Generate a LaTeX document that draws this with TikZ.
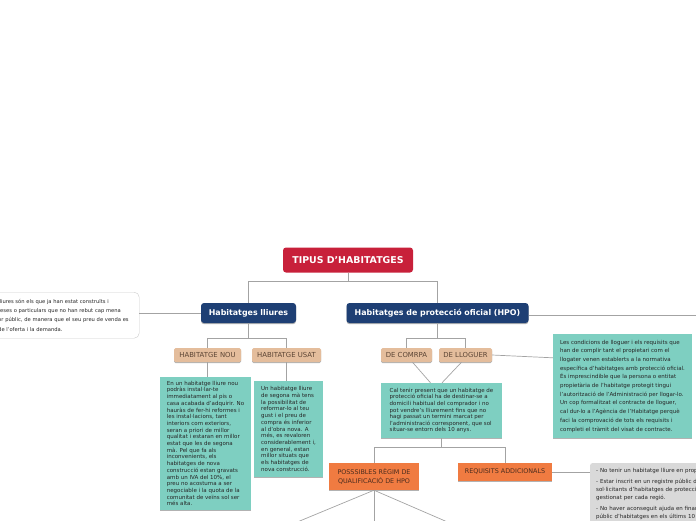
\documentclass[tikz,border=0pt]{standalone}
\usepackage{fontspec}
\setmainfont{DejaVu Sans}
\usepackage{tikz}
\usetikzlibrary{calc, positioning, shadows}

\definecolor{rootred}{HTML}{C8203A}
\definecolor{mainblue}{HTML}{1E3F74}
\definecolor{tanfill}{HTML}{E4BD9C}
\definecolor{tantext}{HTML}{5C4535}
\definecolor{tealfill}{HTML}{7ECFC1}
\definecolor{orangefill}{HTML}{F07B41}
\definecolor{orangetext}{HTML}{4A2C1E}
\definecolor{greyfill}{HTML}{D9D9D9}
\definecolor{linkgrey}{HTML}{A3A3A3}

\tikzset{
  link/.style={draw=linkgrey, line width=.7pt},
  boxshadow/.style={drop shadow={shadow xshift=0pt, shadow yshift=-1.2pt, fill=black, opacity=.3}},
  rootbox/.style={fill=rootred, rounded corners=3pt, text=white, font=\bfseries\fontsize{9.4}{11}\selectfont, minimum width=130pt, minimum height=25pt, inner sep=0pt},
  mainbox/.style={fill=mainblue, rounded corners=3pt, text=white, font=\bfseries\fontsize{7.9}{9}\selectfont, minimum height=20pt, inner sep=0pt, boxshadow},
  tanbox/.style={fill=tanfill, rounded corners=1.5pt, text=tantext, font=\fontsize{6.9}{8}\selectfont, minimum height=14pt, inner sep=0pt, boxshadow},
  orangebox/.style={fill=orangefill, text=orangetext, font=\fontsize{6.4}{9}\selectfont, align=center, inner sep=0pt, boxshadow},
  notebox/.style={fill=tealfill, text=black!85, align=left, inner sep=0pt, boxshadow},
  sidenote/.style={draw=black!20, fill=white, rounded corners=5pt, text=black!85, align=left, inner xsep=4pt, inner ysep=0pt},
  greynote/.style={fill=greyfill, rounded corners=2pt, text=black!85, align=left, inner xsep=6pt, inner ysep=5pt}
}

\begin{document}
\begin{tikzpicture}[x=1pt, y=-1pt]
  \clip (0,0) rectangle (696,520);
  \node[rootbox] (tipus) at (348,260) {TIPUS D'HABITATGES};
  \node[mainbox, minimum width=95pt] (lliures) at (248.5,313) {Habitatges lliures};
  \node[mainbox, minimum width=182pt] (hpo) at (437.5,313) {Habitatges de protecció oficial (HPO)};
  \node[sidenote, text width=137pt, minimum height=46pt, anchor=north west, font=\fontsize{5.2}{9.3}\selectfont] (lliurenote) at (-6,292)
    {lliures són els que ja han estat construïts i\\
     reses o particulars que no han rebut cap mena\\
     or públic, de manera que el seu preu de venda es\\
     de l'oferta i la demanda.};
  \coordinate (hpoend) at (700,313);

  \node[tanbox, minimum width=67pt] (nou) at (207.5,355) {HABITATGE NOU};
  \node[tanbox, minimum width=69pt] (usat) at (286.5,355) {HABITATGE USAT};
  \node[tanbox, minimum width=51pt] (comrpa) at (406.5,355) {DE COMRPA};
  \node[tanbox, minimum width=53pt] (lloguer) at (465.5,355) {DE LLOGUER};

  \node[notebox, minimum width=91pt, minimum height=133pt, font=\fontsize{5.5}{6.7}\selectfont] (noutext) at (205.5,443.5)
    {En un habitatge lliure nou\\ podràs instal·lar-te\\ immediatament al pis o\\ casa acabada d'adquirir. No\\
     hauràs de fer-hi reformes i\\ les instal·lacions, tant\\ interiors com exteriors,\\ seran a priori de millor\\
     qualitat i estaran en millor\\ estat que les de segona\\ mà. Pel que fa als\\ inconvenients, els\\
     habitatges de nova\\ construcció estan gravats\\ amb un IVA del 10\%, el\\ preu no acostuma a ser\\
     negociable i la quota de la\\ comunitat de veïns sol ser\\ més alta.};
  \node[notebox, minimum width=69pt, minimum height=96pt, font=\fontsize{5.5}{6.7}\selectfont] (usattext) at (288.5,429)
    {Un habitatge lliure\\ de segona mà tens\\ la possibilitat de\\ reformar-lo al teu\\ gust i el preu de\\
     compra és inferior\\ al d'obra nova. A\\ més, es revaloren\\ considerablement i,\\ en general, estan\\
     millor situats que\\ els habitatges de\\ nova construcció.};
  \node[notebox, minimum width=121pt, minimum height=55pt, font=\fontsize{5.5}{6.6}\selectfont] (caltext) at (441.5,410.5)
    {Cal tenir present que un habitatge de\\ protecció oficial ha de destinar-se a\\ domicili habitual del comprador i no\\
     pot vendre's lliurement fins que no\\ hagi passat un termini marcat per\\ l'administració corresponent, que sol\\
     situar-se entorn dels 10 anys.};
  \node[notebox, minimum width=139pt, minimum height=104pt, font=\fontsize{5.5}{8.7}\selectfont] (lloguertext) at (622.5,386)
    {Les condicions de lloguer i els requisits que\\ han de complir tant el propietari com el\\
     llogater venen establerts a la normativa\\ específica d'habitatges amb protecció oficial.\\
     És imprescindible que la persona o entitat\\ propietària de l'habitatge protegit tingui\\
     l'autorització de l'Administració per llogar-lo.\\ Un cop formalitzat el contracte de lloguer,\\
     cal dur-lo a l'Agència de l'Habitatge perquè\\ faci la comprovació de tots els requisits i\\
     completi el tràmit del visat de contracte.};

  \node[orangebox, minimum width=90pt, minimum height=27pt] (possibles) at (374,476.5) {POSSSIBLES RÈGIM DE\\ QUALIFICACIÓ DE HPO};
  \node[orangebox, minimum width=94pt, minimum height=18pt] (requisits) at (505,472) {REQUISITS ADDICIONALS};
  \node[greynote, text width=170pt, anchor=north west, font=\fontsize{5.5}{7.6}\selectfont] (reqtext) at (590,463)
    {- No tenir un habitatge lliure en propietat.\\[4pt]
     - Estar inscrit en un registre públic de\\ sol·licitants d'habitatges de protecció oficial\\ gestionat per cada regió.\\[4pt]
     - No haver aconseguit ajuda en finançament\\ públic d'habitatges en els últims 10 anys.};
  \coordinate (regim1) at (278,530);
  \coordinate (regim2) at (374,530);
  \coordinate (regim3) at (466,530);

  \draw[link] (tipus.south) -- ++(0,8.5) -| (lliures.north);
  \draw[link] (tipus.south) -- ++(0,8.5) -| (hpo.north);
  \draw[link] (lliures.west) -- (lliures.west -| lliurenote.east);
  \draw[link] ([yshift=-2pt]hpo.east) -- ([yshift=-2pt]hpo.east -| hpoend);
  \draw[link] (lliures.south) -- ++(0,15) -| (nou.north);
  \draw[link] (lliures.south) -- ++(0,15) -| (usat.north);
  \draw[link] (hpo.south) -- ++(0,15) -| (comrpa.north);
  \draw[link] (hpo.south) -- ++(0,15) -| (lloguer.north);
  \draw[link] (nou.south) -- (nou.south |- noutext.north);
  \draw[link] (usat.south) -- (usat.south |- usattext.north);
  \draw[link] ([xshift=6pt]comrpa.south) -- ([xshift=-11pt]caltext.north);
  \draw[link] ([xshift=-4pt]lloguer.south) -- ([xshift=.5pt]caltext.north);
  \draw[link] (lloguer.east) -- ([yshift=-24pt]lloguertext.north west);
  \draw[link] (caltext.south) -- ++(0,9) -| (possibles.north);
  \draw[link] (caltext.south) -- ++(0,9) -| (requisits.north);
  \draw[link] (requisits.east) -- (requisits.east -| reqtext.west);
  \draw[link] (possibles.south) -- (regim1);
  \draw[link] (possibles.south) -- (regim2);
  \draw[link] (possibles.south) -- (regim3);
\end{tikzpicture}
\end{document}
